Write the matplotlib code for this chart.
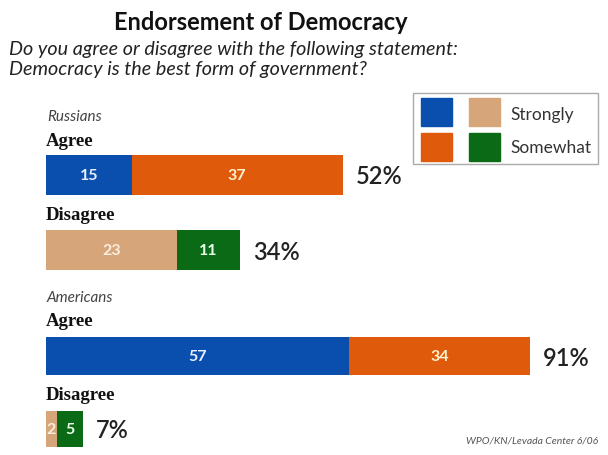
import matplotlib.pyplot as plt

# Data
groups = ["Russians", "Americans"]
answers = ["Agree", "Disagree"]
strongly = {"Russians": [15, 23], "Americans": [57, 2]}
somewhat = {"Russians": [37, 11], "Americans": [34, 5]}
totals = {"Russians": [52, 34], "Americans": [91, 7]}

c_strong = ["#0a4fae", "#d6a67a"]
c_some = ["#e05a0c", "#0b6a15"]
num_colors = [["#e8f0ff", "#fff2d0"], ["#fbeee0", "#e8ffe8"]]

W, H = 608, 455
fig = plt.figure(figsize=(W / 100, H / 100), dpi=100)
fig.patch.set_facecolor("white")

# overlay axes in pixel coords for free text
bg = fig.add_axes([0, 0, 1, 1])
bg.set_xlim(0, W)
bg.set_ylim(H, 0)
bg.axis("off")

# the original draws each group on its own scale
x0, x1 = 46, 530
xmax = {"Russians": 84.8, "Americans": 91}
row_y = {"Russians": [175, 250], "Americans": [356, 429]}
row_h = {"Russians": [40, 40], "Americans": [38, 36]}
group_label_y = {"Russians": 117, "Americans": 298}

for g in groups:
    ax = fig.add_axes([x0 / W, 0, (x1 - x0) / W, 1])
    ax.set_xlim(0, xmax[g])
    ax.set_ylim(H, 0)
    ax.axis("off")
    for i in range(len(answers)):
        y = row_y[g][i]
        s, m = strongly[g][i], somewhat[g][i]
        ax.barh(y, s, height=row_h[g][i], left=0, color=c_strong[i])
        ax.barh(y, m, height=row_h[g][i], left=s, color=c_some[i])
        ax.text(s / 2, y + 1, str(s), color=num_colors[i][0], ha="center",
                va="center", fontsize=11.5, fontweight="bold", family="Lato")
        ax.text(s + m / 2, y + 1, str(m), color=num_colors[i][1],
                ha="center", va="center", fontsize=11.5, fontweight="bold",
                family="Lato")
        ax.text(s + m + xmax[g] * 0.026, y + 2, f"{totals[g][i]}%", ha="left",
                va="center", fontsize=17, color="#222222", family="Lato",
                fontweight="semibold", clip_on=False)
        bg.text(46, y - 34, answers[i], fontsize=13.5, fontweight="bold",
                family="Liberation Serif", va="center", ha="left",
                color="#111111")
    bg.text(47, group_label_y[g], g, fontsize=11, style="italic",
            color="#444444", family="Lato", va="center", ha="left")

# titles
bg.text(261, 22, "Endorsement of Democracy", fontsize=17, fontweight="bold",
        family="Lato", ha="center", va="center", color="#111111")
bg.text(9, 49, "Do you agree or disagree with the following statement:",
        fontsize=14.2, style="italic", family="Lato", ha="left", va="center",
        color="#222222")
bg.text(9, 70, "Democracy is the best form of government?",
        fontsize=14.2, style="italic", family="Lato", ha="left", va="center",
        color="#222222")

# legend box
bg.add_patch(plt.Rectangle((413, 93), 185, 71, facecolor="white",
                           edgecolor="#aaaaaa", lw=1))
bg.add_patch(plt.Rectangle((421, 98), 31, 28, color=c_strong[0]))
bg.add_patch(plt.Rectangle((469, 98), 31, 28, color=c_strong[1]))
bg.add_patch(plt.Rectangle((421, 133), 31, 28, color=c_some[0]))
bg.add_patch(plt.Rectangle((469, 133), 31, 28, color=c_some[1]))
bg.text(510, 115, "Strongly", fontsize=12.5, family="Lato", va="center",
        color="#333333")
bg.text(510, 148, "Somewhat", fontsize=12.5, family="Lato", va="center",
        color="#333333")

# source
bg.text(598, 441, "WPO/KN/Levada Center 6/06", fontsize=7.5, style="italic",
        family="Lato", ha="right", va="center", color="#555555")

fig.savefig("out.png", dpi=100, facecolor="white")
